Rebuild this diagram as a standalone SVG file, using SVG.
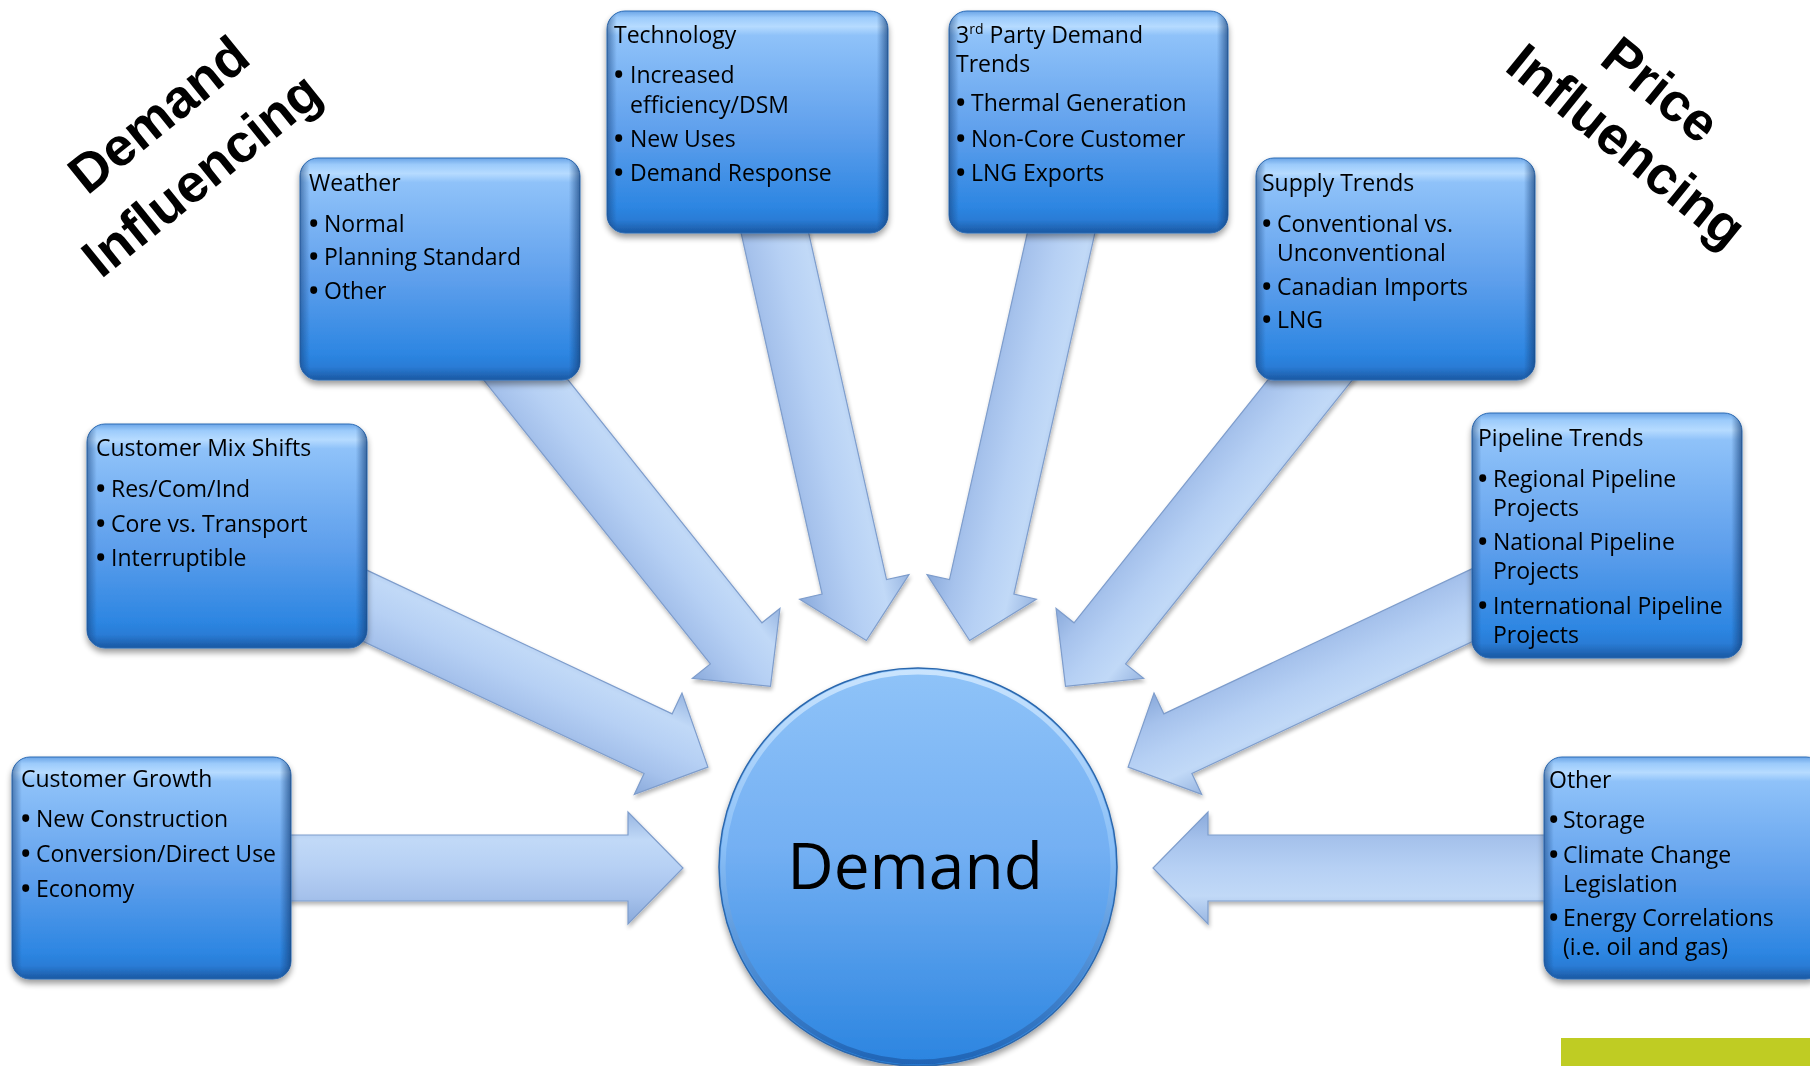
<svg xmlns="http://www.w3.org/2000/svg" width="1810" height="1066" viewBox="0 0 1810 1066">
<defs>
<linearGradient id="boxFill" x1="0" y1="0" x2="0" y2="1">
<stop offset="0" stop-color="#6aa4e6"/>
<stop offset="0.03" stop-color="#9ccbfb"/>
<stop offset="0.07" stop-color="#b6dbff"/>
<stop offset="0.11" stop-color="#8fc2f9"/>
<stop offset="0.55" stop-color="#5e9fec"/>
<stop offset="0.88" stop-color="#2d86e2"/>
<stop offset="0.94" stop-color="#2a7cd6"/>
<stop offset="1" stop-color="#1a58a2"/>
</linearGradient>
<linearGradient id="boxSide" x1="0" y1="0" x2="1" y2="0">
<stop offset="0" stop-color="#14407a" stop-opacity="0.55"/>
<stop offset="0.035" stop-color="#14407a" stop-opacity="0"/>
<stop offset="0.96" stop-color="#14407a" stop-opacity="0"/>
<stop offset="1" stop-color="#14407a" stop-opacity="0.7"/>
</linearGradient>
<linearGradient id="arrowFill" x1="0" y1="0" x2="0" y2="1">
<stop offset="0" stop-color="#97b5e1"/>
<stop offset="0.25" stop-color="#c1d9f7"/>
<stop offset="0.5" stop-color="#b6d0f4"/>
<stop offset="0.75" stop-color="#a6c2ec"/>
<stop offset="1" stop-color="#8aaadb"/>
</linearGradient>
<linearGradient id="circleFill" x1="0" y1="0" x2="0" y2="1">
<stop offset="0" stop-color="#8fc3f8"/>
<stop offset="0.45" stop-color="#74b0f3"/>
<stop offset="1" stop-color="#2a84e0"/>
</linearGradient>
<linearGradient id="rimGrad" x1="0" y1="0" x2="0" y2="1">
<stop offset="0" stop-color="#d8ecff"/>
<stop offset="0.45" stop-color="#8fc3f8"/>
<stop offset="1" stop-color="#1d5dac"/>
</linearGradient>
<filter id="shadow" x="-10%" y="-10%" width="120%" height="130%">
<feGaussianBlur in="SourceAlpha" stdDeviation="3"/>
<feOffset dx="0" dy="4"/>
<feComponentTransfer><feFuncA type="linear" slope="0.4"/></feComponentTransfer>
<feMerge><feMergeNode/><feMergeNode in="SourceGraphic"/></feMerge>
</filter>
<filter id="ashadow" x="-10%" y="-20%" width="120%" height="140%">
<feGaussianBlur in="SourceAlpha" stdDeviation="2"/>
<feOffset dx="1" dy="3"/>
<feComponentTransfer><feFuncA type="linear" slope="0.3"/></feComponentTransfer>
<feMerge><feMergeNode/><feMergeNode in="SourceGraphic"/></feMerge>
</filter>
<style>
.box{fill:url(#boxFill);stroke:#2f6db5;stroke-width:1}
.side{fill:url(#boxSide)}
.node{filter:url(#shadow)}
.arrow{fill:url(#arrowFill);stroke:#7e9dcc;stroke-width:1.2;stroke-linejoin:miter}
.t{font-family:"Open Sans","Liberation Sans",sans-serif;font-size:23px;fill:#000}
.b{font-size:25px;font-weight:bold}
.big{font-family:"Liberation Sans",Arial,sans-serif;font-weight:bold;font-size:54px;fill:#000;text-anchor:middle}
</style>
</defs>
<rect width="1810" height="1066" fill="#ffffff"/>

<g id="titles">
<text class="big" transform="translate(170,129) rotate(-39)">Demand</text>
<text class="big" transform="translate(213,189) rotate(-39)">Influencing</text>
<text class="big" transform="translate(1649,104) rotate(39)">Price</text>
<text class="big" transform="translate(1615,160) rotate(39)">Influencing</text>
</g>

<g id="connectors" filter="url(#ashadow)">
<path class="arrow" transform="translate(280,868)" d="M0,-33 L348,-33 L348,-56 L403,0 L348,56 L348,33 L0,33 Z"/>
<path class="arrow" transform="translate(340,594) rotate(25.2)" d="M0,-33 L351.6,-33 L351.6,-56 L406.6,0 L351.6,56 L351.6,33 L0,33 Z"/>
<path class="arrow" transform="translate(486,330) rotate(51.4)" d="M0,-33 L401,-33 L401,-56 L456,0 L401,56 L401,33 L0,33 Z"/>
<path class="arrow" transform="translate(763,180) rotate(77.35)" d="M0,-33 L417,-33 L417,-56 L472,0 L417,56 L417,33 L0,33 Z"/>
<path class="arrow" transform="translate(1073,180) rotate(102.65)" d="M0,-33 L417,-33 L417,-56 L472,0 L417,56 L417,33 L0,33 Z"/>
<path class="arrow" transform="translate(1350,330) rotate(128.6)" d="M0,-33 L401,-33 L401,-56 L456,0 L401,56 L401,33 L0,33 Z"/>
<path class="arrow" transform="translate(1496,594) rotate(154.8)" d="M0,-33 L351.6,-33 L351.6,-56 L406.6,0 L351.6,56 L351.6,33 L0,33 Z"/>
<path class="arrow" transform="translate(1560,868) rotate(180)" d="M0,-33 L352,-33 L352,-56 L407,0 L352,56 L352,33 L0,33 Z"/>
</g>

<g id="demand" class="node">
<circle cx="918" cy="867" r="199" fill="url(#circleFill)" stroke="#2b67ad" stroke-width="1.5"/>
<circle cx="918" cy="867" r="195" fill="none" stroke="url(#rimGrad)" stroke-width="5" opacity="0.8"/>
<text x="915" y="889" text-anchor="middle" font-family="'Open Sans','Liberation Sans',sans-serif" font-size="64" fill="#000">Demand</text>
</g>

<g id="technology" class="node">
<rect class="box" x="607" y="11" width="281" height="222" rx="18"/>
<rect class="side" x="607" y="11" width="281" height="222" rx="18"/>
<text class="t" x="614" y="43">Technology</text>
<text class="t" x="614" y="83"><tspan class="b">•</tspan><tspan x="630">Increased</tspan></text>
<text class="t" x="630" y="113">efficiency/DSM</text>
<text class="t" x="614" y="147"><tspan class="b">•</tspan><tspan x="630">New Uses</tspan></text>
<text class="t" x="614" y="181"><tspan class="b">•</tspan><tspan x="630">Demand Response</tspan></text>
</g>

<g id="third-party" class="node">
<rect class="box" x="949" y="11" width="279" height="222" rx="18"/>
<rect class="side" x="949" y="11" width="279" height="222" rx="18"/>
<text class="t" x="956" y="43">3<tspan font-size="14" baseline-shift="super">rd</tspan> Party Demand</text>
<text class="t" x="956" y="72">Trends</text>
<text class="t" x="956" y="111"><tspan class="b">•</tspan><tspan x="971">Thermal Generation</tspan></text>
<text class="t" x="956" y="147"><tspan class="b">•</tspan><tspan x="971">Non-Core Customer</tspan></text>
<text class="t" x="956" y="181"><tspan class="b">•</tspan><tspan x="971">LNG Exports</tspan></text>
</g>

<g id="weather" class="node">
<rect class="box" x="300" y="158" width="280" height="222" rx="18"/>
<rect class="side" x="300" y="158" width="280" height="222" rx="18"/>
<text class="t" x="309" y="191">Weather</text>
<text class="t" x="309" y="232"><tspan class="b">•</tspan><tspan x="324">Normal</tspan></text>
<text class="t" x="309" y="265"><tspan class="b">•</tspan><tspan x="324">Planning Standard</tspan></text>
<text class="t" x="309" y="299"><tspan class="b">•</tspan><tspan x="324">Other</tspan></text>
</g>

<g id="supply-trends" class="node">
<rect class="box" x="1256" y="158" width="279" height="222" rx="18"/>
<rect class="side" x="1256" y="158" width="279" height="222" rx="18"/>
<text class="t" x="1262" y="191">Supply Trends</text>
<text class="t" x="1262" y="232"><tspan class="b">•</tspan><tspan x="1277">Conventional vs.</tspan></text>
<text class="t" x="1277" y="261">Unconventional</text>
<text class="t" x="1262" y="295"><tspan class="b">•</tspan><tspan x="1277">Canadian Imports</tspan></text>
<text class="t" x="1262" y="328"><tspan class="b">•</tspan><tspan x="1277">LNG</tspan></text>
</g>

<g id="customer-mix" class="node">
<rect class="box" x="87" y="424" width="280" height="224" rx="18"/>
<rect class="side" x="87" y="424" width="280" height="224" rx="18"/>
<text class="t" x="96" y="456">Customer Mix Shifts</text>
<text class="t" x="96" y="497"><tspan class="b">•</tspan><tspan x="111">Res/Com/Ind</tspan></text>
<text class="t" x="96" y="532"><tspan class="b">•</tspan><tspan x="111">Core vs. Transport</tspan></text>
<text class="t" x="96" y="566"><tspan class="b">•</tspan><tspan x="111">Interruptible</tspan></text>
</g>

<g id="pipeline-trends" class="node">
<rect class="box" x="1472" y="413" width="270" height="245" rx="18"/>
<rect class="side" x="1472" y="413" width="270" height="245" rx="18"/>
<text class="t" x="1478" y="446">Pipeline Trends</text>
<text class="t" x="1478" y="487"><tspan class="b">•</tspan><tspan x="1493">Regional Pipeline</tspan></text>
<text class="t" x="1493" y="516">Projects</text>
<text class="t" x="1478" y="550"><tspan class="b">•</tspan><tspan x="1493">National Pipeline</tspan></text>
<text class="t" x="1493" y="579">Projects</text>
<text class="t" x="1478" y="614"><tspan class="b">•</tspan><tspan x="1493">International Pipeline</tspan></text>
<text class="t" x="1493" y="643">Projects</text>
</g>

<g id="customer-growth" class="node">
<rect class="box" x="12" y="757" width="279" height="222" rx="18"/>
<rect class="side" x="12" y="757" width="279" height="222" rx="18"/>
<text class="t" x="21" y="787">Customer Growth</text>
<text class="t" x="21" y="827"><tspan class="b">•</tspan><tspan x="36">New Construction</tspan></text>
<text class="t" x="21" y="862"><tspan class="b">•</tspan><tspan x="36">Conversion/Direct Use</tspan></text>
<text class="t" x="21" y="897"><tspan class="b">•</tspan><tspan x="36">Economy</tspan></text>
</g>

<g id="other" class="node">
<rect class="box" x="1544" y="757" width="280" height="222" rx="18"/>
<rect class="side" x="1544" y="757" width="280" height="222" rx="18"/>
<text class="t" x="1549" y="788">Other</text>
<text class="t" x="1549" y="828"><tspan class="b">•</tspan><tspan x="1563">Storage</tspan></text>
<text class="t" x="1549" y="863"><tspan class="b">•</tspan><tspan x="1563">Climate Change</tspan></text>
<text class="t" x="1563" y="892">Legislation</text>
<text class="t" x="1549" y="926"><tspan class="b">•</tspan><tspan x="1563">Energy Correlations</tspan></text>
<text class="t" x="1563" y="955">(i.e. oil and gas)</text>
</g>

<rect id="accent-bar" x="1561" y="1038" width="249" height="28" fill="#bfcc23"/>
</svg>
